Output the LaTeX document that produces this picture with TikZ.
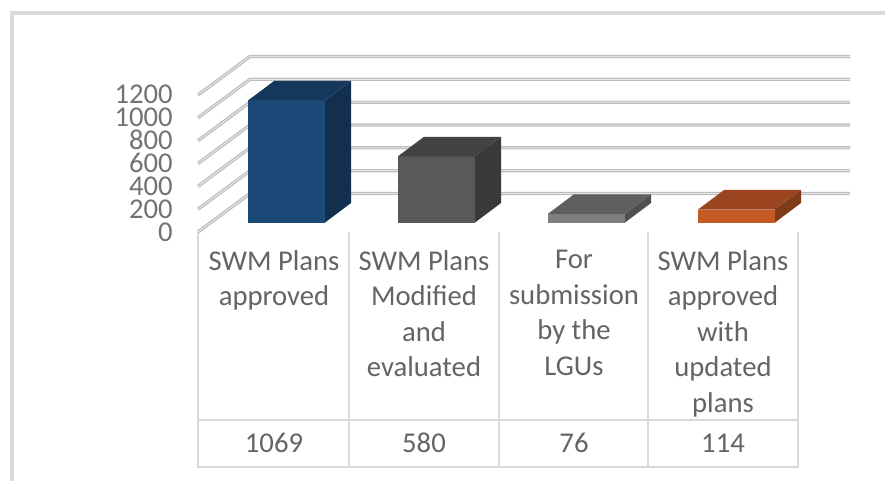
\documentclass[tikz,border=0pt]{standalone}
\usepackage{fontspec}
\setmainfont{Carlito}
\definecolor{framegray}{HTML}{D9D9D9}
\definecolor{gridgray}{HTML}{BDBDBD}
\definecolor{gridlite}{HTML}{E6E6E6}
\definecolor{labgray}{HTML}{737373}
\definecolor{tabgray}{HTML}{646464}
\definecolor{blueF}{HTML}{1B4A78}
\definecolor{blueT}{HTML}{15385C}
\definecolor{blueS}{HTML}{122F4E}
\definecolor{darkF}{HTML}{595959}
\definecolor{darkT}{HTML}{424242}
\definecolor{darkS}{HTML}{393939}
\definecolor{midF}{HTML}{7F7F7F}
\definecolor{midT}{HTML}{5F5F5F}
\definecolor{midS}{HTML}{505050}
\definecolor{orgF}{HTML}{C55A24}
\definecolor{orgT}{HTML}{9A4420}
\definecolor{orgS}{HTML}{7F3A18}

\begin{document}
\begin{tikzpicture}[x=0.75pt,y=-0.75pt]
\tikzset{gridln/.style={draw=gridgray, line width=0.9pt, double=gridlite, double distance=0.7pt, line join=round},
  axlab/.style={anchor=east, inner sep=0pt, text height=13.5pt, text depth=0pt, text=labgray, font=\fontsize{21.5}{24}\selectfont},
  catlab/.style={anchor=north, inner sep=0pt, align=center, text=tabgray, font=\fontsize{21.5}{26.6}\selectfont},
  numlab/.style={inner sep=0pt, text=tabgray, font=\fontsize{21.5}{24}\selectfont},
  tabln/.style={draw=framegray, line width=1.1pt}}
\useasboundingbox (0,0) rectangle (885,481);
\clip (0,0) rectangle (885,481);
% outer frame
\draw[framegray, line width=3pt] (12,500) -- (12,13) -- (900,13);
% gridlines: left wall and back wall
\draw[gridln] (198,232.0) -- (224,212.7) -- (250,193.5) -- (850,193.5);
\draw[gridln] (198,209.2) -- (250,170.7) -- (850,170.7);
\draw[gridln] (198,186.3) -- (250,147.8) -- (850,147.8);
\draw[gridln] (198,163.5) -- (250,125.0) -- (850,125.0);
\draw[gridln] (198,140.7) -- (250,102.2) -- (850,102.2);
\draw[gridln] (198,117.8) -- (250,79.3) -- (850,79.3);
\draw[gridln] (198,95.0) -- (250,56.5) -- (850,56.5);
% axis labels
\node[axlab] (t0) at (173,232.0) {0};
\node[axlab] (t200) at (173,209.2) {200};
\node[axlab] (t400) at (173,186.3) {400};
\node[axlab] (t600) at (173,163.5) {600};
\node[axlab] (t800) at (173,140.7) {800};
\node[axlab] (t1000) at (173,117.8) {1000};
\node[axlab] (t1200) at (173,95.0) {1200};
% bars
\fill[blueF] (248,222.5) rectangle (325,100.5);
\fill[blueT] (248,100.5) -- (274,81.0) -- (351,81.0) -- (325,100.5) -- cycle;
\fill[blueS] (325,222.5) -- (351,203.0) -- (351,81.0) -- (325,100.5) -- cycle;
\fill[darkF] (398,222.5) rectangle (475,156.3);
\fill[darkT] (398,156.3) -- (424,136.8) -- (501,136.8) -- (475,156.3) -- cycle;
\fill[darkS] (475,222.5) -- (501,203.0) -- (501,136.8) -- (475,156.3) -- cycle;
\fill[midF] (548,222.5) rectangle (625,213.8);
\fill[midT] (548,213.8) -- (574,194.3) -- (651,194.3) -- (625,213.8) -- cycle;
\fill[midS] (625,222.5) -- (651,203.0) -- (651,194.3) -- (625,213.8) -- cycle;
\fill[orgF] (698,222.5) rectangle (775,209.5);
\fill[orgT] (698,209.5) -- (724,190.0) -- (801,190.0) -- (775,209.5) -- cycle;
\fill[orgS] (775,222.5) -- (801,203.0) -- (801,190.0) -- (775,209.5) -- cycle;
% data table
\draw[tabln] (198,232) -- (198,467) -- (798,467) -- (798,232);
\draw[tabln] (349,232) -- (349,467);
\draw[tabln] (499,232) -- (499,467);
\draw[tabln] (648,232) -- (648,467);
\draw[tabln] (198,420) -- (798,420);
\node[catlab] (c1) at (274,250) {SWM Plans\\approved};
\node[catlab] (c2) at (424,250) {SWM Plans\\Modified\\and\\evaluated};
\node[catlab] (c3) at (574,250) {For\\submission\\by the\\LGUs};
\node[catlab] (c4) at (723,250) {SWM Plans\\approved\\with\\updated\\plans};
\node[numlab] (v1) at (274,443) {1069};
\node[numlab] (v2) at (424,443) {580};
\node[numlab] (v3) at (574,443) {76};
\node[numlab] (v4) at (723,443) {114};
\end{tikzpicture}
\end{document}
